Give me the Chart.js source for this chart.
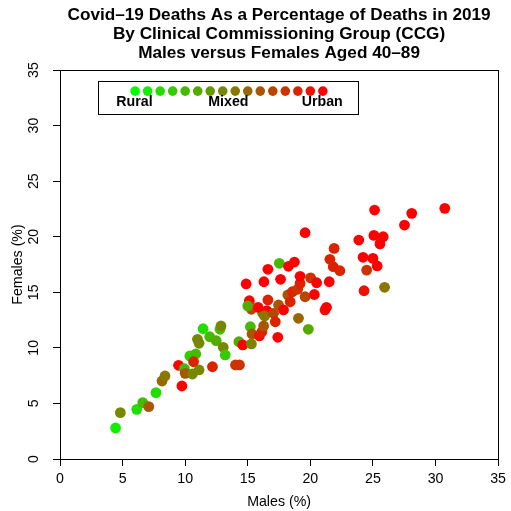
<!DOCTYPE html>
<html>
<head>
<meta charset="utf-8">
<script src="https://cdn.jsdelivr.net/npm/chart.js@4/dist/chart.umd.min.js"></script>
<style>
  html, body { margin: 0; padding: 0; background: #ffffff; }
  #wrap { width: 511px; height: 511px; }
</style>
</head>
<body>
<div id="wrap"><canvas id="c" width="511" height="511"></canvas></div>
<script>
// Covid-19 deaths as % of 2019 deaths, per CCG, ages 40-89
const malesPct = [
  4.44, 4.82, 6.13, 6.61, 7.09, 7.67, 8.15, 8.39, 9.47, 9.74,
  9.94, 10.0, 10.37, 10.85, 10.67, 10.58, 11.11, 10.98, 11.11, 11.43,
  11.96, 12.18, 12.48, 12.78, 12.86, 13.04, 13.2, 14.02, 14.34, 14.29,
  14.6, 15.21, 15.34, 15.29, 15.93, 16.13, 16.27, 16.19, 15.29, 15.13,
  15.82, 16.53, 16.35, 16.61, 17.06, 17.46, 17.2, 17.86, 17.4, 18.2,
  18.39, 18.57, 18.99, 19.05, 19.84, 19.58, 19.18, 19.18, 20.02, 20.5,
  20.32, 17.62, 16.29, 14.87, 16.61, 17.52, 18.25, 18.73, 19.58, 21.56,
  21.83, 22.36, 21.51, 21.9, 21.17, 21.29, 23.87, 24.21, 24.5, 24.29,
  25.13, 28.1, 30.74, 27.52, 25.08, 25.82, 25.56, 25.0, 25.34, 25.93,
  15.0
];
const femalesPct = [
  2.79, 4.17, 4.47, 5.07, 4.71, 5.97, 7.02, 7.47, 8.43, 6.57,
  8.12, 7.71, 9.27, 9.45, 8.75, 7.65, 8.01, 10.77, 10.41, 11.72,
  11.0, 8.30, 10.64, 11.67, 11.97, 10.05, 9.36, 8.46, 8.46, 10.55,
  10.26, 11.9, 11.25, 10.35, 11.07, 11.45, 11.97, 13.11, 13.47, 14.24,
  13.65, 13.34, 12.87, 14.31, 13.11, 13.86, 12.35, 13.41, 10.95, 14.76,
  14.15, 15.05, 15.27, 12.66, 11.67, 14.6, 15.8, 16.44, 16.3, 15.86,
  14.8, 16.17, 15.95, 15.75, 17.07, 17.61, 17.34, 17.72, 20.36, 17.97,
  17.3, 16.94, 15.95, 18.95, 13.41, 13.65, 19.7, 18.15, 17.0, 15.14,
  22.4, 22.1, 22.55, 21.05, 20.12, 20.0, 19.35, 18.05, 17.37, 15.45,
  13.77
];
// 0 = most rural ... 15 = most urban
const urbanLevel = [
  1, 7, 2, 4, 10, 2, 9, 8, 15, 15,
  4, 10, 3, 4, 13, 7, 7, 7, 7, 2,
  4, 13, 5, 4, 7, 7, 3, 12, 12, 5,
  15, 4, 10, 7, 14, 13, 10, 7, 11, 15,
  15, 15, 8, 13, 11, 10, 13, 15, 15, 10,
  13, 13, 12, 9, 5, 11, 13, 15, 12, 15,
  15, 15, 15, 15, 15, 4, 15, 15, 15, 13,
  13, 13, 15, 13, 14, 15, 15, 15, 12, 14,
  15, 15, 15, 15, 15, 15, 15, 15, 15, 8,
  5
];
const legendLevels = [0, 1, 2, 3, 4, 5, 6, 7, 8, 9, 10, 11, 12, 13, 14, 15];
const legendWords = ['Rural', 'Mixed', 'Urban'];
const titleLines = [
  'Covid\u201319 Deaths As a Percentage of Deaths in 2019',
  'By Clinical Commissioning Group (CCG)',
  'Males versus Females Aged 40\u201389'
];
const axisMin = 0, axisMax = 35, axisStep = 5;

// green -> red ramp in 16 steps
function rampColor(level) {
  const t = level / 15;
  return 'rgb(' + Math.round(255 * t) + ',' + Math.round(255 * (1 - t)) + ',0)';
}

const points = malesPct.map((m, i) => ({ x: m, y: femalesPct[i] }));
const pointColors = urbanLevel.map(rampColor);

const FONT = '"Liberation Sans", Arial, Helvetica, sans-serif';

const framePlugin = {
  id: 'frame',
  afterDraw(chart) {
    const ctx = chart.ctx;
    const a = chart.chartArea;
    const xs = chart.scales.x, ys = chart.scales.y;
    ctx.save();
    // plot box
    ctx.strokeStyle = '#000';
    ctx.lineWidth = 1;
    ctx.strokeRect(Math.round(a.left) + 0.5, Math.round(a.top) + 0.5,
                   Math.round(a.right - a.left), Math.round(a.bottom - a.top));

    // title
    ctx.fillStyle = '#000';
    ctx.font = 'bold 17.2px ' + FONT;
    ctx.textAlign = 'center';
    ctx.textBaseline = 'middle';
    const cx = (a.left + a.right) / 2;
    titleLines.forEach((t, i) => ctx.fillText(t, cx, 15 + i * 19));

    // legend box
    const bx0 = xs.getPixelForValue(3.0), bx1 = xs.getPixelForValue(23.75);
    const by0 = ys.getPixelForValue(34.0), by1 = ys.getPixelForValue(31.0);
    ctx.strokeRect(Math.round(bx0) + 0.5, Math.round(by0) + 0.5,
                   Math.round(bx1 - bx0), Math.round(by1 - by0));
    // legend dots
    const dotY = ys.getPixelForValue(33.1);
    legendLevels.forEach((lv, i) => {
      ctx.beginPath();
      ctx.fillStyle = rampColor(lv);
      ctx.arc(xs.getPixelForValue(6 + i), dotY, 4.8, 0, Math.PI * 2);
      ctx.fill();
    });
    // legend words
    ctx.fillStyle = '#000';
    ctx.font = 'bold 14.2px ' + FONT;
    ctx.textBaseline = 'middle';
    const wordX = [5.95, 13.45, 20.95];
    const wordY = ys.getPixelForValue(32.15);
    legendWords.forEach((w, i) => ctx.fillText(w, xs.getPixelForValue(wordX[i]), wordY));
    ctx.restore();
  }
};

new Chart(document.getElementById('c'), {
  type: 'scatter',
  data: {
    datasets: [{
      data: points,
      backgroundColor: pointColors,
      borderWidth: 0,
      pointRadius: 5.4,
      pointHoverRadius: 5.4
    }]
  },
  options: {
    responsive: false,
    animation: false,
    devicePixelRatio: 1,
    layout: { padding: { top: 70, right: 10, left: 0, bottom: 0 } },
    plugins: { legend: { display: false }, tooltip: { enabled: false }, title: { display: false } },
    scales: {
      x: {
        type: 'linear',
        min: axisMin, max: axisMax,
        afterFit: s => { s.height = 52; },
        ticks: { stepSize: axisStep, color: '#000', font: { family: FONT, size: 14.2 }, padding: 5, maxRotation: 0 },
        grid: { drawOnChartArea: false, drawTicks: true, tickLength: 7, color: '#000', lineWidth: 1 },
        border: { display: true, color: '#000', width: 1 },
        title: { display: true, text: 'Males (%)', color: '#000', font: { family: FONT, size: 14.2 }, padding: { top: 0, bottom: 0 } }
      },
      y: {
        type: 'linear',
        min: axisMin, max: axisMax,
        afterFit: s => { s.width = 60; },
        ticks: { stepSize: axisStep, color: '#000', font: { family: FONT, size: 14.2 }, padding: 11, minRotation: 90, maxRotation: 90, crossAlign: 'center' },
        grid: { drawOnChartArea: false, drawTicks: true, tickLength: 7, color: '#000', lineWidth: 1 },
        border: { display: true, color: '#000', width: 1 },
        title: { display: true, text: 'Females (%)', color: '#000', font: { family: FONT, size: 14.2 }, padding: { top: 10, bottom: 0 } }
      }
    }
  },
  plugins: [framePlugin]
});
</script>
</body>
</html>
